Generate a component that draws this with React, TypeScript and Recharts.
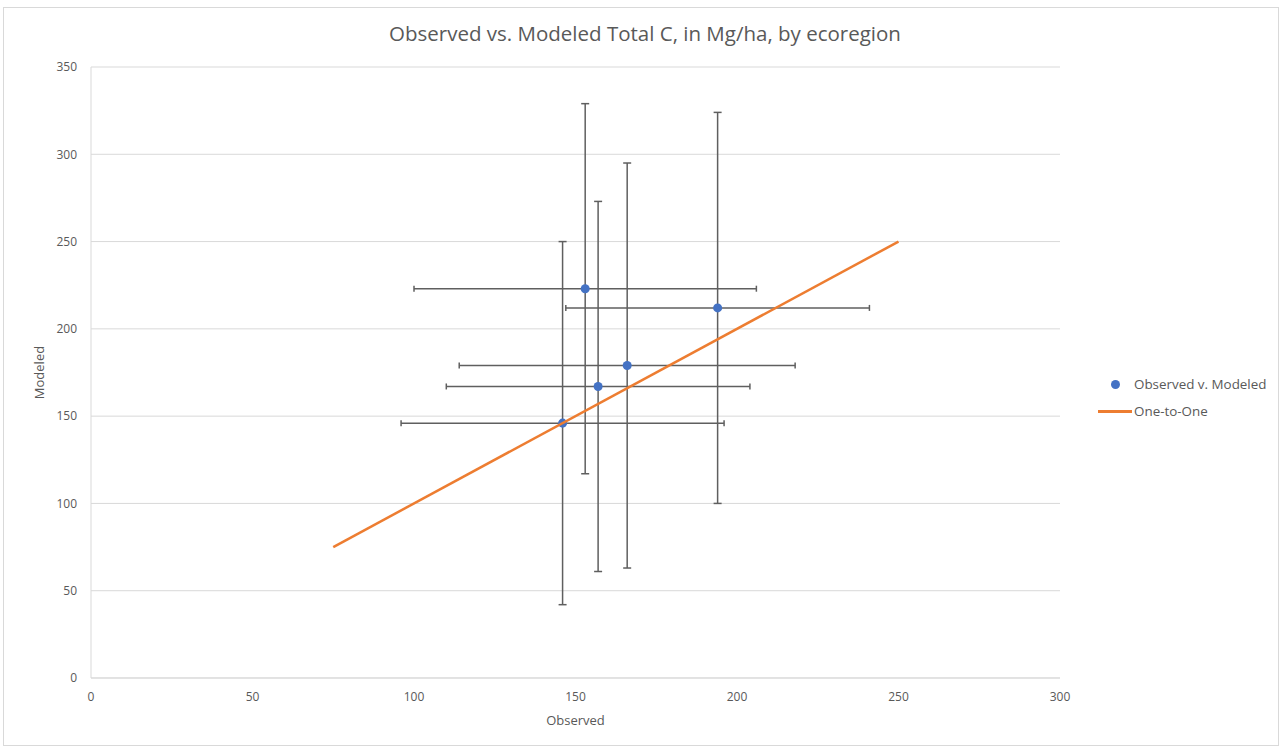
import React from 'react';
import {
  CartesianGrid,
  ErrorBar,
  Scatter,
  ScatterChart,
  XAxis,
  YAxis,
} from 'recharts';

// values
const observed = [146, 153, 157, 166, 194];
const modeled = [146, 223, 167, 179, 212];
const observedErr = [50, 53, 47, 52, 47];
const modeledErr = [104, 106, 106, 116, 112];

const oneToOneX = [75, 250];
const oneToOneY = [75, 250];

const xTicks = [0, 50, 100, 150, 200, 250, 300];
const yTicks = [0, 50, 100, 150, 200, 250, 300, 350];

const FONT = '"Open Sans", "Noto Sans", sans-serif';
const TEXT = '#595959';
const GRID = '#d9d9d9';

const points = observed.map((x, i) => ({
  x,
  y: modeled[i],
  ex: observedErr[i],
  ey: modeledErr[i],
}));

const oneToOne = oneToOneX.map((x, i) => ({ x, y: oneToOneY[i] }));

export default function App() {
  return (
    <div
      style={{
        position: 'absolute',
        left: 0,
        top: 0,
        width: 1281,
        height: 747,
        background: '#fff',
        fontFamily: FONT,
      }}
    >
      <div
        style={{
          position: 'absolute',
          left: 3,
          top: 7,
          width: 1274,
          height: 737,
          border: `1px solid ${GRID}`,
        }}
      />
      <div
        style={{
          position: 'absolute',
          left: 0,
          top: 19,
          width: 1290,
          textAlign: 'center',
          fontSize: 20.5,
          color: TEXT,
        }}
      >
        Observed vs. Modeled Total C, in Mg/ha, by ecoregion
      </div>

      <ScatterChart
        width={1281}
        height={747}
        margin={{ top: 67, right: 221, left: 0, bottom: 0 }}
        style={{ position: 'absolute', left: 0, top: 0 }}
      >
        <CartesianGrid vertical={false} stroke={GRID} />
        <XAxis
          type="number"
          dataKey="x"
          domain={[0, 300]}
          ticks={xTicks}
          height={69}
          tickLine={false}
          tickSize={6}
          tickMargin={8}
          axisLine={{ stroke: GRID }}
          tick={{ fill: TEXT, fontSize: 12, fontFamily: FONT }}
          label={{
            value: 'Observed',
            position: 'insideBottom',
            offset: 22,
            fill: TEXT,
            fontSize: 13,
            fontFamily: FONT,
          }}
        />
        <YAxis
          type="number"
          dataKey="y"
          domain={[0, 350]}
          ticks={yTicks}
          width={91}
          tickLine={false}
          tickSize={6}
          tickMargin={8}
          axisLine={{ stroke: GRID }}
          tick={{ fill: TEXT, fontSize: 12, fontFamily: FONT }}
          label={{
            value: 'Modeled',
            angle: -90,
            position: 'center',
            dx: -6,
            fill: TEXT,
            fontSize: 13,
            fontFamily: FONT,
          }}
        />
        <Scatter
          name="Observed v. Modeled"
          data={points}
          fill="#4472C4"
          isAnimationActive={false}
        >
          <ErrorBar dataKey="ex" direction="x" width={3} stroke="#5f5f5f" strokeWidth={1.5} />
          <ErrorBar dataKey="ey" direction="y" width={4} stroke="#5f5f5f" strokeWidth={1.5} />
        </Scatter>
        <Scatter
          name="One-to-One"
          data={oneToOne}
          line={{ stroke: '#ED7D31', strokeWidth: 2.5 }}
          shape={() => <g />}
          isAnimationActive={false}
        />
      </ScatterChart>

      {/* legend */}
      <div
        style={{
          position: 'absolute',
          left: 1098,
          top: 371,
          fontSize: 13.4,
          color: TEXT,
          lineHeight: '27px',
        }}
      >
        <div style={{ display: 'flex', alignItems: 'center' }}>
          <span style={{ width: 34, display: 'inline-flex', justifyContent: 'center' }}>
            <span
              style={{
                width: 9,
                height: 9,
                borderRadius: '50%',
                background: '#4472C4',
                display: 'inline-block',
              }}
            />
          </span>
          <span style={{ marginLeft: 2 }}>Observed v. Modeled</span>
        </div>
        <div style={{ display: 'flex', alignItems: 'center' }}>
          <span style={{ width: 34, height: 2.5, background: '#ED7D31', display: 'inline-block' }} />
          <span style={{ marginLeft: 2 }}>One-to-One</span>
        </div>
      </div>
    </div>
  );
}
